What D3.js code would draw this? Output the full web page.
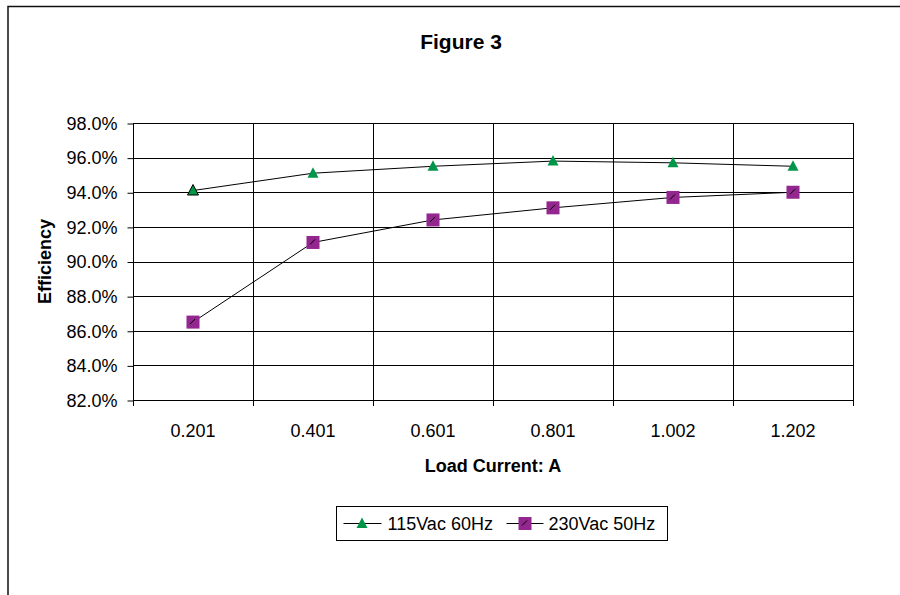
<!DOCTYPE html>
<html>
<head>
<meta charset="utf-8">
<script src="https://cdn.jsdelivr.net/npm/d3@7"></script>
<style>
	body { margin: 0; background: #fff; }
	text { font-family: "Liberation Sans", Arial, sans-serif; fill: #000; }
</style>
</head>
<body>
<div class="container"></div>
<script>
var categories = ["0.201", "0.401", "0.601", "0.801", "1.002", "1.202"];
var series115 = [94.1, 95.1, 95.5, 95.8, 95.7, 95.5];
var series230 = [86.5, 91.1, 92.4, 93.1, 93.7, 94.0];
var yTicks = [82, 84, 86, 88, 90, 92, 94, 96, 98];
var seriesNames = ["115Vac 60Hz", "230Vac 50Hz"];

const WIDTH = 900;
const HEIGHT = 595;
const LEFT = 133, RIGHT = 853, TOP = 123, BOTTOM = 400;

const GREEN = "#00964a";
const PURPLE = "#93278f";

var translate = function(x, y){
	return "translate(" + x + "," + y + ")";
};

var triangle = function(g, x, y, outline){
	g.append("path")
		.attr("d", "M" + x + "," + (y - 6) + "L" + (x + 5.5) + "," + (y + 4.5) + "L" + (x - 5.5) + "," + (y + 4.5) + "Z")
		.attr("fill", GREEN)
		.attr("stroke", outline ? "#000" : "none")
		.attr("stroke-width", 1);
};

var square = function(g, x, y){
	g.append("rect")
		.attr("x", x - 6.5).attr("y", y - 6.5)
		.attr("width", 13).attr("height", 13)
		.attr("fill", PURPLE);
	g.append("line")
		.attr("x1", x - 3).attr("y1", y + 2)
		.attr("x2", x + 2).attr("y2", y - 3)
		.attr("stroke", "#000").attr("stroke-width", 1);
};

window.onload = function(){
	var svg = d3.select(".container").append("svg")
		.attr("width", WIDTH)
		.attr("height", HEIGHT);

	// outer chart frame (runs off the right and bottom edge)
	svg.append("rect")
		.attr("x", 8).attr("y", 6.5)
		.attr("width", 1000).attr("height", 700)
		.attr("fill", "none")
		.attr("stroke", "#111")
		.attr("stroke-width", 1.5);

	var xScale = d3.scaleBand()
		.domain(categories)
		.range([LEFT, RIGHT]);

	var yScale = d3.scaleLinear()
		.domain([82, 98])
		.range([BOTTOM, TOP]);

	var xc = function(d){ return xScale(d) + xScale.bandwidth() / 2; };

	// horizontal grid
	svg.append("g").selectAll("line").data(yTicks)
		.enter().append("line")
		.attr("x1", LEFT).attr("x2", RIGHT)
		.attr("y1", function(d){ return Math.round(yScale(d)) + 0.5; })
		.attr("y2", function(d){ return Math.round(yScale(d)) + 0.5; })
		.attr("stroke", "#000");

	// vertical grid at category boundaries, with little ticks below
	var bounds = categories.map(function(d){ return xScale(d); }).concat([RIGHT]);
	svg.append("g").selectAll("line").data(bounds)
		.enter().append("line")
		.attr("x1", function(d){ return Math.round(d) + 0.5; })
		.attr("x2", function(d){ return Math.round(d) + 0.5; })
		.attr("y1", TOP).attr("y2", BOTTOM + 6)
		.attr("stroke", "#000");

	var yAxis = d3.axisLeft(yScale)
		.tickValues(yTicks)
		.tickFormat(function(d){ return d.toFixed(1) + "%"; })
		.tickSizeInner(6)
		.tickSizeOuter(0)
		.tickPadding(10);

	var yg = svg.append("g")
		.attr("transform", translate(LEFT + 0.5, 0.5))
		.call(yAxis);
	yg.select(".domain").remove();
	yg.selectAll("text").attr("font-size", 18).attr("font-family", null);
	yg.selectAll("line").attr("stroke", "#000");

	var xAxis = d3.axisBottom(xScale)
		.tickSize(0)
		.tickPadding(24);

	var xg = svg.append("g")
		.attr("transform", translate(0, BOTTOM))
		.call(xAxis);
	xg.select(".domain").remove();
	xg.selectAll("text").attr("font-size", 18).attr("font-family", null);

	// series lines
	var line = d3.line()
		.x(function(d, i){ return xc(categories[i]); })
		.y(function(d){ return yScale(d); });

	svg.append("path").attr("d", line(series115))
		.attr("fill", "none").attr("stroke", "#000").attr("stroke-width", 1);
	svg.append("path").attr("d", line(series230))
		.attr("fill", "none").attr("stroke", "#000").attr("stroke-width", 1);

	var marks = svg.append("g");
	series115.forEach(function(d, i){
		triangle(marks, xc(categories[i]), yScale(d), i == 0);
	});
	series230.forEach(function(d, i){
		square(marks, xc(categories[i]), yScale(d));
	});

	// titles
	svg.append("text")
		.attr("x", 461).attr("y", 49)
		.attr("text-anchor", "middle")
		.attr("font-size", 21).attr("font-weight", "bold")
		.text("Figure 3");

	svg.append("text")
		.attr("x", (LEFT + RIGHT) / 2).attr("y", 472)
		.attr("text-anchor", "middle")
		.attr("font-size", 18).attr("font-weight", "bold")
		.text("Load Current: A");

	svg.append("text")
		.attr("transform", translate(51, (TOP + BOTTOM) / 2) + " rotate(-90)")
		.attr("text-anchor", "middle")
		.attr("font-size", 18).attr("font-weight", "bold")
		.text("Efficiency");

	// legend
	var legend = svg.append("g").attr("transform", translate(336.5, 506.5));
	legend.append("rect")
		.attr("width", 331).attr("height", 34)
		.attr("fill", "#fff").attr("stroke", "#000");

	legend.append("line").attr("x1", 7).attr("x2", 45).attr("y1", 17).attr("y2", 17).attr("stroke", "#000");
	triangle(legend, 25.5, 17, false);
	legend.append("text").attr("x", 51).attr("y", 23.5).attr("font-size", 18).text(seriesNames[0]);

	legend.append("line").attr("x1", 170).attr("x2", 207).attr("y1", 17).attr("y2", 17).attr("stroke", "#000");
	square(legend, 188.5, 17);
	legend.append("text").attr("x", 212).attr("y", 23.5).attr("font-size", 18).text(seriesNames[1]);
};
</script>
</body>
</html>
